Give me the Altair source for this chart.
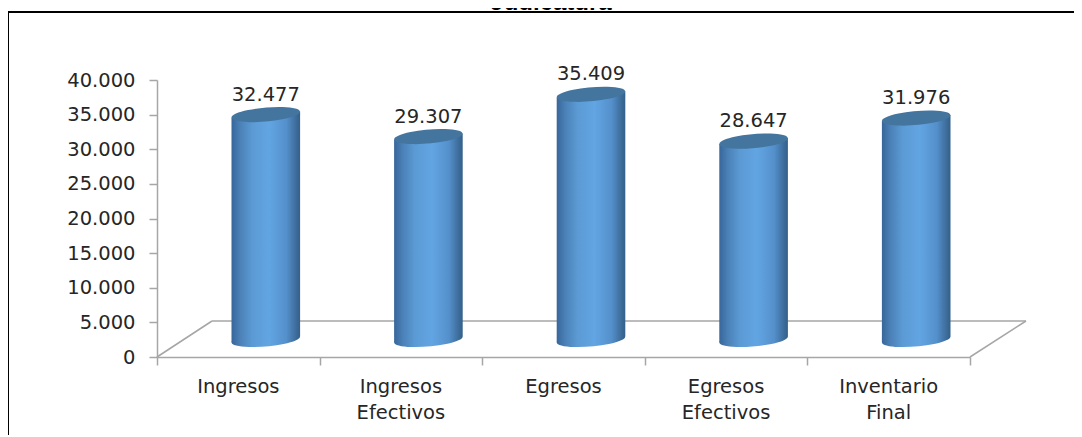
import altair as alt
import pandas as pd

categories = ["Ingresos", "Ingresos\nEfectivos", "Egresos", "Egresos\nEfectivos", "Inventario\nFinal"]
values = [32477, 29307, 35409, 28647, 31976]
y_ticks = [0, 5000, 10000, 15000, 20000, 25000, 30000, 35000, 40000]
x_ticks = [0, 1, 2, 3, 4, 5]
title_text = "Judicatura"

FONT = "DejaVu Sans"
TXT = "#262626"
GREY = "#a6a6a6"
W, H = 813, 277
LEFT, TOP = 149, 72
PX_Y = 40000 / H
PX_X = 5 / W
BASE = 17.5 * PX_Y      # depth lift of the columns above the front of the floor
TILT = 3 * PX_Y         # tilt of the cylinder ends
SHIFT = 27.5 * PX_X     # columns stand right of their category centre
HALF = 34.3 * PX_X
label_lift = [-2.5, 2, 1.5, -3.5, 4]     # manual nudges of the value labels (px)
label_side = [-2, 3.5, 0.5, 1, -2.5]
ELLIPSE = "M-0.996,0.087 A1,0.2,-5,1,1,0.996,-0.087 A1,0.2,-5,1,1,-0.996,0.087 Z"
SIZE = (2 * 34.3) ** 2

body = pd.DataFrame(
    [dict(c=f"c{i}", x=i + .5 + SHIFT + s * HALF, top=v + BASE + s * TILT, bot=BASE + s * TILT)
     for i, v in enumerate(values) for s in (-1, 1)]
)
ends = pd.DataFrame(
    [dict(x=i + .5 + SHIFT, top=v + BASE, bot=BASE, lift=l, side=d, text=f"{v:,}".replace(",", "."))
     for i, (v, l, d) in enumerate(zip(values, label_lift, label_side))]
)
cats = pd.DataFrame([dict(x=i + .5, text=c) for i, c in enumerate(categories)])

xs = alt.Scale(domain=[0, 5], nice=False, zero=False)
ys = alt.Scale(domain=[0, 40000], nice=False)

grad = alt.Gradient(
    gradient="linear", x1=0, x2=1, y1=0, y2=0,
    stops=[
        alt.GradientStop(offset=0, color="#37669a"),
        alt.GradientStop(offset=.12, color="#4a80b6"),
        alt.GradientStop(offset=.3, color="#5b9ad4"),
        alt.GradientStop(offset=.55, color="#62a5e3"),
        alt.GradientStop(offset=.8, color="#5490cb"),
        alt.GradientStop(offset=.93, color="#3f6f9e"),
        alt.GradientStop(offset=1, color="#34608a"),
    ],
)

x_axis = alt.Axis(values=x_ticks, labels=False, title=None, grid=False,
                  tickColor=GREY, tickSize=8, tickWidth=1.5, domainColor=GREY, domainWidth=1.5)
y_axis = alt.Axis(values=y_ticks, title=None, grid=False, tickColor=GREY, tickSize=8,
                  tickWidth=1.5, domainColor=GREY, domainWidth=1.5, labelOverlap=False,
                  labelFont=FONT, labelFontSize=19.5, labelColor=TXT, labelPadding=14,
                  labelExpr="replace(format(datum.value, ','), ',', '.')")
X = alt.X("x:Q", scale=xs, axis=x_axis)
Y = alt.Y("top:Q", scale=ys, axis=y_axis)

frame = alt.Chart(pd.DataFrame({"a": [0]})).mark_rect(fill="transparent", stroke="black", strokeWidth=2).encode(
    x=alt.value(-LEFT), x2=alt.value(W + 140), y=alt.value(-TOP + 4), y2=alt.value(H + 120))

title = alt.Chart(pd.DataFrame({"text": [title_text]})).mark_text(
    font="Liberation Sans", fontWeight="bold", fontSize=24, color="black", baseline="alphabetic"
).encode(text="text:N", x=alt.value(551 - 8 - LEFT), y=alt.value(-TOP + 2))

floor_rows = [(0, 0, 55, 36), (55, 36, 869, 36), (869, 36, 813, 0)]
floor = alt.layer(*[
    alt.Chart(pd.DataFrame({"a": [0]})).mark_rule(color=GREY, strokeWidth=1.5).encode(
        x=alt.value(a), y=alt.value(H - b), x2=alt.value(c), y2=alt.value(H - d))
    for a, b, c, d in floor_rows
])

base_ell = alt.Chart(ends).mark_point(shape=ELLIPSE, filled=True, fill=grad, opacity=1, size=SIZE, strokeWidth=0).encode(
    x=X, y=alt.Y("bot:Q", scale=ys, axis=y_axis))
bodies = alt.Chart(body).mark_area(fill=grad, opacity=1).encode(
    x=X, y=Y, y2=alt.Y2("bot:Q"), detail="c:N")
top_ell = alt.Chart(ends).mark_point(shape=ELLIPSE, filled=True, fill="#44759f", opacity=1, size=SIZE, strokeWidth=0).encode(
    x=X, y=Y)
val_text = alt.Chart(ends).mark_text(font=FONT, fontSize=19.5, color=TXT, baseline="middle", dy=-20).encode(
    x=X, y=Y,
    yOffset=alt.YOffset("lift:Q", scale=None), xOffset=alt.XOffset("side:Q", scale=None), text="text:N")
cat_text = alt.Chart(cats).mark_text(font=FONT, fontSize=19.5, color=TXT, baseline="middle", lineBreak="\n", lineHeight=26).encode(
    x=X, y=alt.value(H + 30), text="text:N")

chart = alt.layer(
    frame, title, floor, base_ell, bodies, top_ell, val_text, cat_text
).properties(
    width=W, height=H, padding={"left": LEFT, "top": TOP, "right": 104, "bottom": 78},
    autosize=alt.AutoSizeParams(type="none"),
).configure_view(stroke=None)

chart.save("out.html", embed_options={"renderer": "svg", "actions": False})
